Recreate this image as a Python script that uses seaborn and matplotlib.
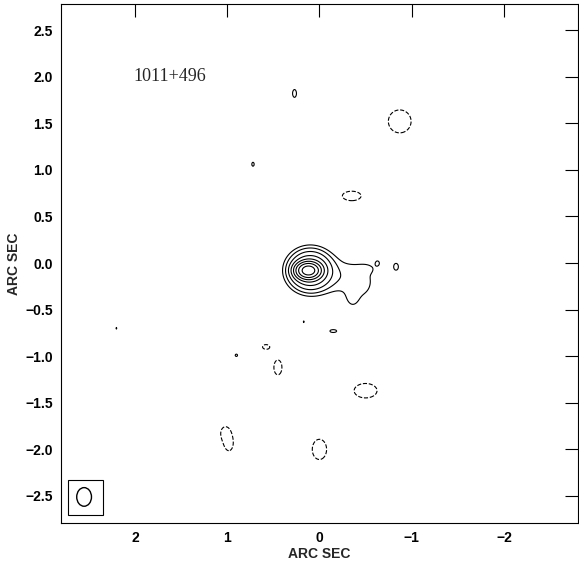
import numpy as np
import matplotlib
matplotlib.use("Agg")
import matplotlib.pyplot as plt
from matplotlib.patches import Rectangle, Ellipse
import seaborn as sns

# ---- data: source components (x, y in arcsec; amplitude in units of lowest contour) ----
comp_x   = [0.12, 0.10, -0.25, -0.45, -0.36, -0.52, -0.63, -0.83]
comp_y   = [-0.08, -0.08, -0.15, -0.22, -0.38, -0.06, 0.00, -0.04]
comp_amp = [190.0, 22.0, 1.5, 1.1, 1.1, 0.8, 1.15, 1.3]
comp_sx  = [0.065, 0.12, 0.18, 0.10, 0.05, 0.07, 0.025, 0.035]
comp_sy  = [0.045, 0.11, 0.14, 0.12, 0.07, 0.04, 0.03, 0.05]

# noise features (positive = solid, negative = dashed)
noise_x   = [0.27, 0.72, 2.20, 0.17, -0.15, 0.90, -0.87, -0.35, 0.45, -0.50, 1.02, 0.98, 0.00, 0.58]
noise_y   = [1.82, 1.06, -0.70, -0.63, -0.73, -0.99, 1.52, 0.72, -1.12, -1.37, -1.82, -1.95, -2.00, -0.90]
noise_amp = [1.15, 1.1, 1.05, 1.05, 1.15, 1.1, -1.4, -1.3, -1.3, -1.35, -1.3, -1.3, -1.35, -1.2]
noise_sx  = [0.04, 0.03, 0.02, 0.02, 0.07, 0.03, 0.15, 0.14, 0.06, 0.16, 0.06, 0.05, 0.10, 0.06]
noise_sy  = [0.08, 0.05, 0.03, 0.03, 0.03, 0.03, 0.15, 0.07, 0.11, 0.10, 0.08, 0.08, 0.14, 0.04]

levels = [-1, 1, 2, 4, 8, 16, 32, 64, 128]
x_ticks = [2, 1, 0, -1, -2]
y_ticks = [-2.5, -2.0, -1.5, -1.0, -0.5, 0.0, 0.5, 1.0, 1.5, 2.0, 2.5]
source_name = "1011+496"
beam_x, beam_y, beam_w, beam_h = 2.55, -2.51, 0.16, 0.20

sns.set_theme(style="white")
plt.rcParams['font.family'] = ['Liberation Sans', 'DejaVu Sans']

fig = plt.figure(figsize=(5.79, 5.61), dpi=100)
ax = fig.add_axes([0.1054, 0.0677, 0.8926, 0.9252])

g = np.linspace(-2.9, 2.9, 581)
X, Y = np.meshgrid(g, g)
Z = np.zeros_like(X)
for xs, ys, a, sx, sy in zip(comp_x + noise_x, comp_y + noise_y, comp_amp + noise_amp,
                             comp_sx + noise_sx, comp_sy + noise_sy):
    Z += a * np.exp(-0.5 * (((X - xs) / sx) ** 2 + ((Y - ys) / sy) ** 2))

ax.contour(X, Y, Z, levels=levels, colors="black", linewidths=0.8,
           negative_linestyles="dashed")

ax.set_xlim(2.8, -2.8)
ax.set_ylim(-2.79, 2.78)
ax.set_xticks(x_ticks)
ax.set_yticks(y_ticks)
ax.set_xticklabels(["\u2212" + str(abs(t)) if t < 0 else str(t) for t in x_ticks])
ax.set_yticklabels([("\u2212" if t < 0 else "") + f"{abs(t):.1f}" for t in y_ticks])
ax.tick_params(direction="in", length=9.5, width=0.8, top=True, right=True,
               labelsize=10, colors="black", pad=6)
for lab in ax.get_xticklabels() + ax.get_yticklabels():
    lab.set_fontweight("bold")
for s in ax.spines.values():
    s.set_color("black")
    s.set_linewidth(0.8)

ax.set_xlabel("ARC SEC", fontsize=10, fontweight="bold", labelpad=1)
ax.set_ylabel("ARC SEC", fontsize=10, fontweight="bold", labelpad=3)

ax.text(2.02, 2.0, source_name, family=["Liberation Serif", "DejaVu Serif"],
        fontsize=13, ha="left", va="center")

ax.add_patch(Rectangle((2.35, -2.70), 0.37, 0.37, fill=False, ec="black", lw=0.8))
ax.add_patch(Ellipse((beam_x, beam_y), beam_w, beam_h, fill=False, ec="black", lw=1.0))

fig.savefig("out.png", dpi=100)
